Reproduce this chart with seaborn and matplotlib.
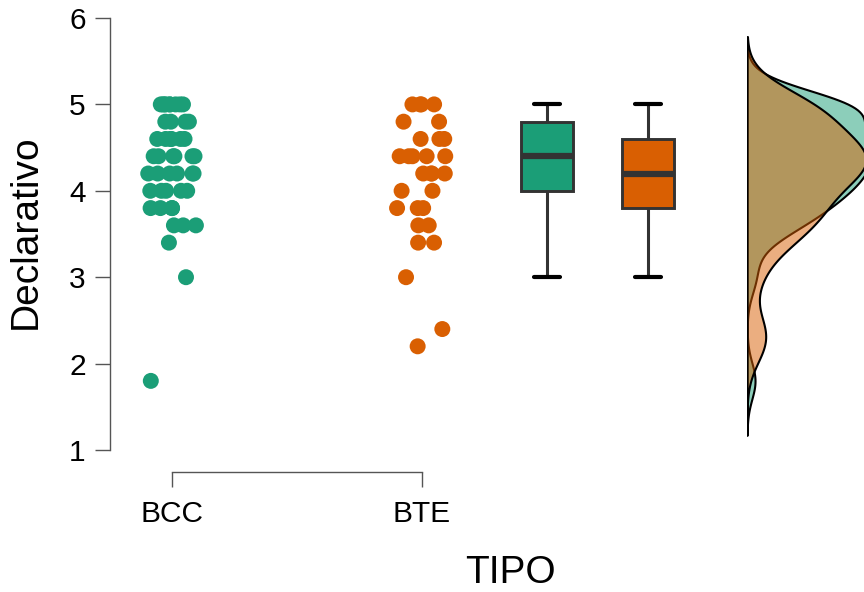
import numpy as np
import pandas as pd
import matplotlib
matplotlib.use("Agg")
import matplotlib.pyplot as plt
import seaborn as sns

# Declarativo scores by group
groups = ["BCC", "BTE"]
bcc_scores = [1.8, 3.0, 3.4,
              3.6, 3.6, 3.6,
              3.8, 3.8, 3.8, 3.8,
              4.0, 4.0, 4.0, 4.0, 4.0,
              4.2, 4.2, 4.2, 4.2, 4.2, 4.2,
              4.4, 4.4, 4.4, 4.4, 4.4, 4.4,
              4.6, 4.6, 4.6, 4.6, 4.6, 4.6,
              4.8, 4.8, 4.8, 4.8,
              5.0, 5.0, 5.0, 5.0, 5.0, 5.0, 5.0, 5.0, 5.0]
bte_scores = [2.2, 2.4, 3.0,
              3.4, 3.4,
              3.6, 3.6,
              3.8, 3.8, 3.8,
              4.0, 4.0,
              4.2, 4.2, 4.2, 4.2,
              4.4, 4.4, 4.4, 4.4, 4.4,
              4.6, 4.6, 4.6,
              4.8, 4.8,
              5.0, 5.0, 5.0, 5.0]
y_ticks = [1, 2, 3, 4, 5, 6]
palette = {"BCC": "#1B9E77", "BTE": "#D95F02"}

df = pd.DataFrame({
    "TIPO": ["BCC"] * len(bcc_scores) + ["BTE"] * len(bte_scores),
    "Declarativo": bcc_scores + bte_scores,
})

sns.set_style("white")
plt.rcParams["font.family"] = ["Liberation Sans", "DejaVu Sans"]
plt.rcParams["text.color"] = "black"
plt.rcParams["axes.labelcolor"] = "black"

W, H = 864, 592
fig = plt.figure(figsize=(W / 100, H / 100), dpi=100)


def fx(px):
    return px / W


def fy(py):
    return 1 - py / H


top, bottom = 18, 450
ax_h = (bottom - top) / H
main = fig.add_axes([fx(110), fy(bottom), fx(W - 110), ax_h])
box_ax = fig.add_axes([fx(496.5), fy(bottom), fx(202), ax_h])
dens_ax = fig.add_axes([fx(747), fy(bottom), fx(W - 747), ax_h])
for a in (main, box_ax, dens_ax):
    a.patch.set_alpha(0)

# jittered raw scores
np.random.seed(7)
sns.stripplot(data=df, x="TIPO", y="Declarativo", hue="TIPO", order=groups,
              palette=palette, jitter=0.1, size=11.5, linewidth=0,
              legend=False, ax=main)

# boxplots
sns.boxplot(data=df, x="TIPO", y="Declarativo", hue="TIPO", order=groups,
            palette=palette, saturation=1, width=0.505, showfliers=False,
            linecolor="#333333", linewidth=2.1, legend=False,
            medianprops=dict(color="#333333", linewidth=4.5),
            whiskerprops=dict(color="#333333", linewidth=2.2),
            capprops=dict(color="black", linewidth=3.0),
            ax=box_ax)
box_ax.set_xlim(-0.5, 1.5)
box_ax.set_ylim(1, 6)
box_ax.axis("off")

# half densities
for g, vals in zip(groups, [bcc_scores, bte_scores]):
    sns.kdeplot(y=vals, fill=True, color=palette[g], alpha=0.5,
                edgecolor="black", linewidth=1.5, cut=3, bw_adjust=0.72,
                ax=dens_ax)
peak = max(c.get_paths()[0].vertices[:, 0].max() for c in dens_ax.collections)
dens_ax.set_xlim(0, 0.95 * peak)
dens_ax.set_ylim(1, 6)
dens_ax.axis("off")

# axis styling
axis_grey = "#555555"
main.set_xlim(-0.248, 2.768)
main.set_ylim(1, 6)
main.set_yticks(y_ticks)
main.set_xticks([0, 1])
main.set_xticklabels(groups)
for s in ("top", "right"):
    main.spines[s].set_visible(False)
for s in ("left", "bottom"):
    main.spines[s].set_color(axis_grey)
    main.spines[s].set_linewidth(1.0)
main.spines["left"].set_bounds(1, 6)
main.spines["bottom"].set_bounds(0, 1)
main.spines["bottom"].set_position(("outward", 15.8))
main.tick_params(axis="both", left=True, bottom=True, direction="out",
                 length=11, width=1.0, color=axis_grey,
                 labelsize=21.5, labelcolor="black")
main.tick_params(axis="y", pad=6.5)
main.tick_params(axis="x", pad=9)

main.set_ylabel("Declarativo", fontsize=28)
main.set_xlabel("TIPO", fontsize=28)
main.yaxis.label.set_va("center")
main.xaxis.label.set_va("center")
main.yaxis.set_label_coords(fx(26), fy(232), transform=fig.transFigure)
main.xaxis.set_label_coords(fx(510), fy(573), transform=fig.transFigure)

fig.savefig("out.png", dpi=100)
